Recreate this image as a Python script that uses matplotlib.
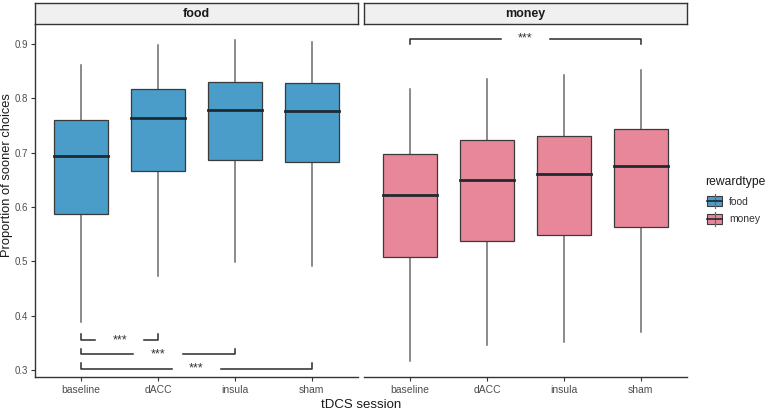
import matplotlib
matplotlib.use("Agg")
import matplotlib.pyplot as plt
from matplotlib.patches import Rectangle

plt.rcParams['font.family'] = ['Liberation Sans', 'DejaVu Sans']

sessions = ['baseline', 'dACC', 'insula', 'sham']
rewardtypes = ['food', 'money']
colors = {'food': '#4a9cc9', 'money': '#e8879a'}

# five-number summaries per session: low whisker, Q1, median, Q3, high whisker
food_stats = [
    [0.389, 0.587, 0.694, 0.760, 0.861],
    [0.473, 0.666, 0.763, 0.817, 0.899],
    [0.499, 0.686, 0.778, 0.830, 0.907],
    [0.491, 0.682, 0.776, 0.828, 0.903],
]
money_stats = [
    [0.316, 0.508, 0.622, 0.697, 0.818],
    [0.346, 0.537, 0.650, 0.723, 0.836],
    [0.352, 0.549, 0.661, 0.731, 0.844],
    [0.370, 0.564, 0.676, 0.743, 0.852],
]

# significance brackets: (from, to, line y, tip y)
food_sig = [('baseline', 'dACC', 0.355, 0.366),
            ('baseline', 'insula', 0.329, 0.339),
            ('baseline', 'sham', 0.302, 0.313)]
money_sig = [('baseline', 'sham', 0.910, 0.900)]

fig = plt.figure(figsize=(7.68, 4.13), dpi=100)
ax_l = fig.add_axes([35/768, 1-377/413, 323/768, 353/413])
ax_r = fig.add_axes([364/768, 1-377/413, 323/768, 353/413])

ylim = (0.287, 0.937)
tick_col = '#4d4d4d'


def draw_panel(ax, stats, rt, sigs, show_y):
    for i, s in enumerate(stats):
        x = i + 1
        lo, q1, med, q3, hi = s
        ax.plot([x, x], [lo, q1], color='#6b6b6b', lw=1.1, zorder=1)
        ax.plot([x, x], [q3, hi], color='#6b6b6b', lw=1.1, zorder=1)
        ax.add_patch(Rectangle((x - 0.35, q1), 0.7, q3 - q1, facecolor=colors[rt],
                               edgecolor='#3a3a3a', lw=0.9, zorder=2))
        ax.plot([x - 0.35, x + 0.35], [med, med], color='#1f2a30', lw=2.0, zorder=3)
    for a, b, yl, yt in sigs:
        x1 = sessions.index(a) + 1
        x2 = sessions.index(b) + 1
        xm = (x1 + x2) / 2
        gap = 0.32
        ax.plot([x1, x1, xm - gap], [yt, yl, yl], color='#2b2b2b', lw=1.1, zorder=4)
        ax.plot([xm + gap, x2, x2], [yl, yl, yt], color='#2b2b2b', lw=1.1, zorder=4)
        ax.text(xm, yl, '***', ha='center', va='center', fontsize=9, color='#333333')
    ax.set_xlim(0.4, 4.6)
    ax.set_ylim(*ylim)
    ax.set_xticks(range(1, 5))
    ax.set_xticklabels(sessions, fontsize=7.5, color=tick_col)
    ax.tick_params(axis='x', length=3, color='#333333', pad=3)
    for sp in ['top', 'right']:
        ax.spines[sp].set_visible(False)
    ax.spines['bottom'].set_color('#333333')
    ax.spines['bottom'].set_linewidth(1.0)
    if show_y:
        ax.set_yticks([0.3, 0.4, 0.5, 0.6, 0.7, 0.8, 0.9])
        ax.set_yticklabels(['0.3', '0.4', '0.5', '0.6', '0.7', '0.8', '0.9'],
                           fontsize=7, color=tick_col)
        ax.tick_params(axis='y', length=3, color='#333333', pad=2)
        ax.spines['left'].set_color('#333333')
        ax.spines['left'].set_linewidth(1.0)
    else:
        ax.spines['left'].set_visible(False)
        ax.set_yticks([])
    # facet strip
    pos = ax.get_position()
    strip = fig.add_axes([pos.x0, 1 - 24/413, pos.width, 21/413])
    strip.set_facecolor('#f0f0f0')
    strip.set_xticks([])
    strip.set_yticks([])
    for sp in strip.spines.values():
        sp.set_color('#333333')
        sp.set_linewidth(1.0)
    strip.text(0.5, 0.48, rt, ha='center', va='center', fontsize=9,
               fontweight='bold', color='#1a1a1a', transform=strip.transAxes)


draw_panel(ax_l, food_stats, 'food', food_sig, True)
draw_panel(ax_r, money_stats, 'money', money_sig, False)

fig.text(7/768, 1 - 175/413, 'Proportion of sooner choices', rotation=90,
         ha='center', va='center', fontsize=9.3, color='#1a1a1a')
fig.text(361/768, 1 - 405/413, 'tDCS session', ha='center', va='center',
         fontsize=9.5, color='#1a1a1a')

# legend
fig.text(705/768, 1 - 182/413, 'rewardtype', ha='left', va='center',
         fontsize=8.7, color='#1a1a1a')
leg = fig.add_axes([706/768, 1 - 228/413, 17/768, 36/413])
leg.set_xlim(0, 1)
leg.set_ylim(0, 2)
leg.axis('off')
for j, rt in enumerate(rewardtypes):
    yc = 1.5 - j
    leg.plot([0.5, 0.5], [yc - 0.4, yc + 0.4], color='#6b6b6b', lw=0.9)
    leg.add_patch(Rectangle((0.08, yc - 0.27), 0.84, 0.54, facecolor=colors[rt],
                            edgecolor='#3a3a3a', lw=0.8))
    leg.plot([0.08, 0.92], [yc, yc], color='#1f2a30', lw=1.2)
    fig.text(729/768, 1 - (202 + 17 * j)/413, rt, ha='left', va='center',
             fontsize=7.5, color='#333333')

fig.savefig('out.png', dpi=100)
